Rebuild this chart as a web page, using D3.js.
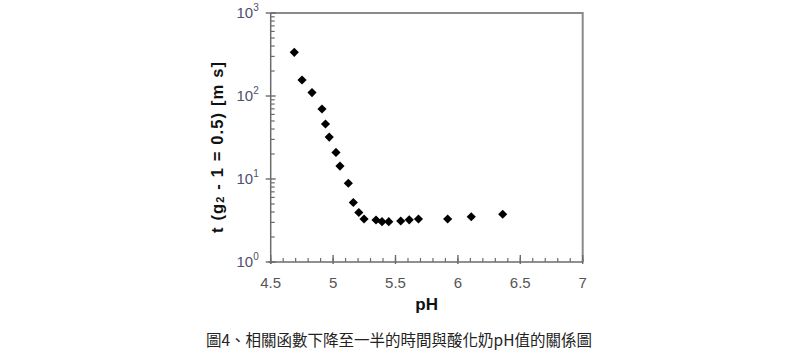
<!DOCTYPE html>
<html><head><meta charset="utf-8">
<script src="https://cdn.jsdelivr.net/npm/d3@7"></script>
<style>body{margin:0;background:#fff}svg{display:block}</style>
</head><body>
<svg id="c" width="799" height="359"></svg>
<script>
const pH = [4.689,4.751,4.831,4.911,4.939,4.969,5.023,5.055,5.122,5.162,5.206,5.248,5.344,5.392,5.446,5.542,5.610,5.684,5.918,6.107,6.359];
const tHalf = [336,156,110,69.7,46,32,20.9,14.3,8.88,5.21,3.95,3.30,3.21,3.06,3.06,3.12,3.22,3.30,3.30,3.51,3.76];
const xTicks = [4.5,5,5.5,6,6.5,7];
const xTickLabels = ["4.5","5","5.5","6","6.5","7"];
const yDecades = [0,1,2,3];
const xTitle = "pH";
const caption = "圖4、相關函數下降至一半的時間與酸化奶pH值的關係圖";

const svg = d3.select("#c");
const L=270.7,R=582.7,T=13,B=262;
const x = d3.scaleLinear().domain([4.5,7]).range([L,R]);
const y = d3.scaleLog().domain([1,1000]).range([B,T]);
const axisCol="#6b6b6b", labCol="#4f4f6e";

// frame (top/right)
svg.append("path").attr("d",`M${L},${T}H${R}V${B}`).attr("fill","none").attr("stroke","#8a8a8a").attr("stroke-width",2);

// x ticks
const xMinor = d3.range(45,71).map(v=>v/10);
const gx = svg.append("g");
gx.selectAll("line.mi").data(xMinor).join("line")
 .attr("x1",d=>x(d)).attr("x2",d=>x(d)).attr("y1",B).attr("y2",B-4)
 .attr("stroke",axisCol).attr("stroke-width",1.2);
gx.selectAll("line.ma").data(xTicks).join("line")
 .attr("x1",d=>x(d)).attr("x2",d=>x(d)).attr("y1",B+2).attr("y2",B-7)
 .attr("stroke",axisCol).attr("stroke-width",1.4);
gx.selectAll("text").data(xTicks).join("text")
 .attr("x",d=>x(d)).attr("y",B+26).attr("text-anchor","middle")
 .attr("font-family","Liberation Sans, Arial, sans-serif").attr("font-size",15).attr("fill","#555")
 .text((d,i)=>xTickLabels[i]);

// y ticks
const yMinor=[];
for(let e=0;e<3;e++) for(let k=2;k<=9;k++) yMinor.push(k*Math.pow(10,e));
const gy = svg.append("g");
gy.selectAll("line.mi").data(yMinor).join("line")
 .attr("x1",L).attr("x2",L+4).attr("y1",d=>y(d)).attr("y2",d=>y(d))
 .attr("stroke",axisCol).attr("stroke-width",1.2);
gy.selectAll("line.ma").data(yDecades).join("line")
 .attr("x1",L-5).attr("x2",L+5).attr("y1",d=>y(Math.pow(10,d))).attr("y2",d=>y(Math.pow(10,d)))
 .attr("stroke",axisCol).attr("stroke-width",1.4);
const yl = gy.selectAll("text").data(yDecades).join("text")
 .attr("x",L-12).attr("y",d=>y(Math.pow(10,d))+5).attr("text-anchor","end")
 .attr("font-family","Liberation Sans, Arial, sans-serif").attr("font-size",15).attr("fill",labCol);
yl.append("tspan").text("10");
yl.append("tspan").attr("dy",-7).attr("font-size",10).text(d=>d);

// axis lines
svg.append("line").attr("x1",L-2).attr("x2",R).attr("y1",B).attr("y2",B).attr("stroke",axisCol).attr("stroke-width",1.5);
svg.append("line").attr("x1",L).attr("x2",L).attr("y1",T).attr("y2",B+2).attr("stroke",axisCol).attr("stroke-width",1.5);

// points
const sym = d3.symbol().type(d3.symbolSquare).size(42);
svg.append("g").selectAll("path").data(pH).join("path")
 .attr("d",sym).attr("transform",(d,i)=>`translate(${x(d)},${y(tHalf[i])}) rotate(45)`)
 .attr("fill","#000");

// titles
svg.append("text").attr("x",x(5.75)).attr("y",B+48).attr("text-anchor","middle")
 .attr("font-family","Liberation Sans, Arial, sans-serif").attr("font-weight","bold").attr("font-size",17).attr("fill","#111").text(xTitle);
const yt = svg.append("text").attr("transform",`translate(223,147.5) rotate(-90)`).attr("text-anchor","middle")
 .attr("font-family","Liberation Sans, Arial, sans-serif").attr("font-weight","bold").attr("font-size",16.5).attr("fill","#111")
 .attr("textLength",171).attr("lengthAdjust","spacing");
yt.append("tspan").text("t (g");
yt.append("tspan").attr("font-size",11).attr("dy",1).text("2");
yt.append("tspan").attr("dy",-1).text(" - 1 = 0.5)   [m s]");

svg.append("text").attr("x",399).attr("y",346).attr("text-anchor","middle")
 .attr("font-family","Noto Sans CJK TC, sans-serif").attr("font-size",15.5).attr("fill","#222").text(caption);
</script>
</body></html>
